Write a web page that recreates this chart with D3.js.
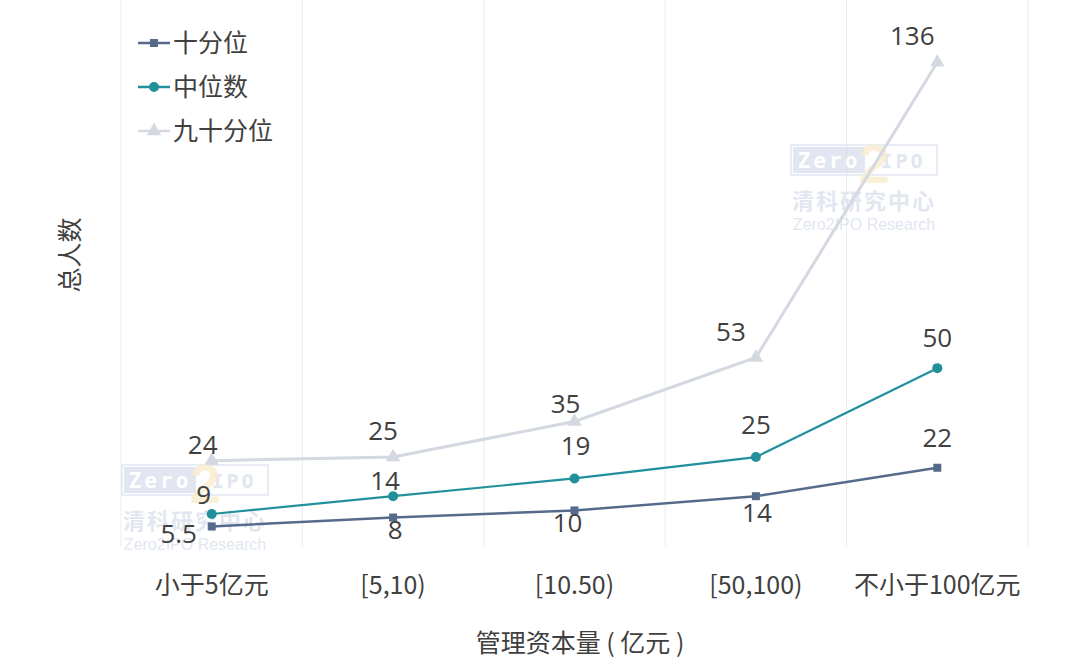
<!DOCTYPE html>
<html><head><meta charset="utf-8">
<script src="https://cdn.jsdelivr.net/npm/d3@7/dist/d3.min.js"></script>
<style>body{margin:0;background:#fff}svg{display:block}</style>
</head><body><svg id="c" width="1080" height="670"></svg>
<script>
const categories = ["小于5亿元","[5,10)","[10.50)","[50,100)","不小于100亿元"];
const seriesNames = ["十分位","中位数","九十分位"];
const p10 = [5.5, 8, 10, 14, 22];
const p50 = [9, 14, 19, 25, 50];
const p90 = [24, 25, 35, 53, 136];
const yMax = 153.5;
const xTitle = "管理资本量 ( 亿元 )";
const yTitle = "总人数";

// label placement (style): [dx, dy-from-point-to-baseline]
const p10LabelPos = [[-33, 17], [2, 21], [-7, 22], [1, 26], [0, -21]];
const p50LabelPos = [[-8, -10], [-8, -6], [1, -23], [0, -23], [0, -21]];
const p90LabelPos = [[-9, -7], [-10, -17], [-9, -9], [-25, -16], [-25, -17]];

const svg = d3.select("#c");
const PL = 121, PR = 1028, PT = 0, PB = 546;
const x = d3.scaleBand().domain(categories).range([PL, PR]);
const y = d3.scaleLinear().domain([0, yMax]).range([PB, PT]);
const cx = d => x(d) + x.bandwidth()/2;
const numFont = "'Open Sans','Noto Sans',sans-serif";
const cjkFont = "'Noto Sans CJK SC','Noto Sans',sans-serif";

// gridlines
const bounds = categories.map(c => x(c)).concat([PR]);
svg.append("g").selectAll("line").data(bounds).join("line")
  .attr("x1", d => d).attr("x2", d => d).attr("y1", PT).attr("y2", PB)
  .attr("stroke", "#ececec").attr("stroke-width", 1);

// watermarks
function watermark(gx, gy) {
  const g = svg.append("g").attr("transform", `translate(${gx},${gy})`).attr("opacity", 0.55);
  g.append("rect").attr("x", 0).attr("y", 0).attr("width", 146).attr("height", 30)
    .attr("fill", "none").attr("stroke", "#c9d3e6").attr("stroke-width", 1.5);
  g.append("rect").attr("x", 2).attr("y", 2).attr("width", 72).attr("height", 26).attr("fill", "#c9d3e6");
  g.append("text").attr("x", 38).attr("y", 23).attr("text-anchor", "middle")
    .attr("font-family", "'DejaVu Sans Mono',monospace").attr("font-weight", "bold").attr("font-size", 21)
    .attr("fill", "#ffffff").attr("letter-spacing", 3).text("Zero");
  g.append("text").attr("x", 112).attr("y", 23).attr("text-anchor", "middle")
    .attr("font-family", "'DejaVu Sans Mono',monospace").attr("font-weight", "bold").attr("font-size", 20)
    .attr("fill", "#c9d3e6").attr("letter-spacing", 3).text("IPO");
  g.append("text").attr("x", 83).attr("y", 38).attr("text-anchor", "middle")
    .attr("font-family", "sans-serif").attr("font-weight", "bold").attr("font-size", 56)
    .attr("fill", "#f6dca6").attr("opacity", 0.8).text("2");
  g.append("text").attr("x", 73).attr("y", 64).attr("text-anchor", "middle")
    .attr("font-family", cjkFont).attr("font-weight", "bold").attr("font-size", 22)
    .attr("fill", "#c9d3e6").attr("letter-spacing", 2).text("清科研究中心");
  g.append("text").attr("x", 73).attr("y", 85).attr("text-anchor", "middle")
    .attr("font-family", "'Liberation Sans',Arial,sans-serif").attr("font-size", 16)
    .attr("fill", "#c9d3e6").text("Zero2IPO Research");
}
watermark(122, 465);
watermark(791, 145);

const series = [
  {name: seriesNames[0], data: p10, color: "#566b8b", marker: "square", w: 2.5, pos: p10LabelPos},
  {name: seriesNames[1], data: p50, color: "#22909b", marker: "circle", w: 2.2, pos: p50LabelPos},
  {name: seriesNames[2], data: p90, color: "#d3d8e1", marker: "triangle", w: 3, pos: p90LabelPos}
];
const line = d3.line().x((d, i) => cx(categories[i])).y(d => y(d));
function marker(g, type, color, px, py) {
  if (type === "square") g.append("rect").attr("x", px-4).attr("y", py-4).attr("width", 8).attr("height", 8).attr("fill", color);
  else if (type === "circle") g.append("circle").attr("cx", px).attr("cy", py).attr("r", 5).attr("fill", color);
  else g.append("path").attr("d", d3.symbol(d3.symbolTriangle, 90)()).attr("transform", `translate(${px},${py})`).attr("fill", color);
}
[...series].reverse().forEach(s => {
  svg.append("path").datum(s.data).attr("d", line).attr("fill", "none")
    .attr("stroke", s.color).attr("stroke-width", s.w);
  const g = svg.append("g");
  s.data.forEach((v, i) => marker(g, s.marker, s.color, cx(categories[i]), y(v)));
});

// value labels
const lab = svg.append("g").attr("font-family", numFont).attr("font-size", 26).attr("fill", "#404040").attr("text-anchor", "middle");
series.forEach(s => {
  s.data.forEach((v, i) => lab.append("text")
    .attr("x", cx(categories[i]) + s.pos[i][0]).attr("y", y(v) + s.pos[i][1]).text(v));
});

// x tick labels
svg.append("g").selectAll("text").data(categories).join("text")
  .attr("x", d => cx(d)).attr("y", 594).attr("text-anchor", "middle")
  .attr("font-family", cjkFont).attr("font-size", 25).attr("fill", "#404040").text(d => d);

// axis titles
svg.append("text").attr("x", 580).attr("y", 652).attr("text-anchor", "middle")
  .attr("font-family", cjkFont).attr("font-size", 25).attr("fill", "#404040").text(xTitle);
svg.append("text").attr("transform", "translate(79,255) rotate(-90)").attr("text-anchor", "middle")
  .attr("font-family", cjkFont).attr("font-size", 25).attr("fill", "#404040").text(yTitle);

// legend
const lg = svg.append("g");
series.forEach((s, i) => {
  const ly = 43 + i * 44;
  lg.append("line").attr("x1", 138).attr("x2", 170).attr("y1", ly).attr("y2", ly).attr("stroke", s.color).attr("stroke-width", 2.5);
  marker(lg, s.marker, s.color, 154, ly);
  lg.append("text").attr("x", 173).attr("y", ly + 9).attr("font-family", cjkFont).attr("font-size", 25)
    .attr("fill", "#404040").text(s.name);
});
</script></body></html>
